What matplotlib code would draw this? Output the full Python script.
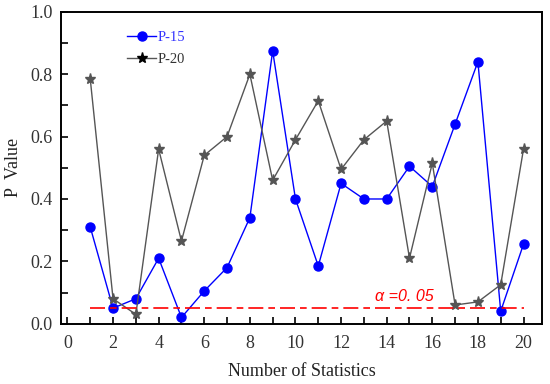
import matplotlib
matplotlib.use('Agg')
from matplotlib import pyplot as plt
from matplotlib.ticker import MultipleLocator

# Data
stats = list(range(1, 21))
p15 = [0.31, 0.05, 0.08, 0.21, 0.02, 0.105, 0.18, 0.34, 0.875, 0.40,
       0.185, 0.45, 0.40, 0.40, 0.505, 0.44, 0.64, 0.84, 0.04, 0.255]
p20 = [0.785, 0.08, 0.03, 0.56, 0.265, 0.54, 0.60, 0.80, 0.46, 0.59,
       0.715, 0.495, 0.59, 0.65, 0.21, 0.515, 0.06, 0.07, 0.125, 0.56]
alpha = 0.05
alpha_label = 'α =0. 05'

plt.rcParams['font.family'] = ['Liberation Serif', 'DejaVu Serif']

fig = plt.figure(figsize=(5.5, 3.84), dpi=100)
ax = fig.add_axes([0.111, 0.157, 0.874, 0.812])

ax.plot(stats, p15, '-o', color='#0000ff', lw=1.0, ms=6.5, label='P-15')
ax.plot(stats, p20, '-*', color='#555555', lw=1.0, ms=8,
        mfc='#555555', mec='#555555', label='P-20')
ax.plot([stats[0], stats[-1]], [alpha, alpha], color='red', lw=1.2,
        dashes=(9, 3, 4, 3))
ax.text(13.5, 0.087, alpha_label, color='red', fontsize=11.5,
        style='italic', family='Liberation Sans', va='center')

ax.set_xlim(-0.28, 20.8)
ax.set_ylim(0, 1.0)
ax.xaxis.set_major_locator(MultipleLocator(2))
ax.xaxis.set_minor_locator(MultipleLocator(1))
ax.yaxis.set_major_locator(MultipleLocator(0.2))
ax.yaxis.set_minor_locator(MultipleLocator(0.1))
ax.yaxis.set_major_formatter(matplotlib.ticker.FormatStrFormatter('%.1f'))
ax.tick_params(which='both', direction='in', top=False, right=False,
               labelsize=13, labelcolor='#333333', width=1.2)
ax.tick_params(axis='x', which='both', pad=8)
ax.tick_params(axis='y', which='both', pad=6)
ax.tick_params(which='major', length=5)
ax.tick_params(which='minor', length=5)
for s in ax.spines.values():
    s.set_linewidth(1.4)

ax.set_xlabel('Number of Statistics', fontsize=13, color='#222222',
              labelpad=8)
ax.set_ylabel('P  Value', fontsize=13, color='#222222', labelpad=6)

leg = ax.legend(loc='upper left', bbox_to_anchor=(0.11, 0.98), frameon=False,
                fontsize=10.5, handlelength=2.0, handletextpad=0.1,
                labelspacing=0.6)
for txt, col in zip(leg.get_texts(), ['#3333ff', '#333333']):
    txt.set_color(col)
leg.legend_handles[1].set_markerfacecolor('black')
leg.legend_handles[1].set_markeredgecolor('black')

fig.savefig('out.png', dpi=100)
